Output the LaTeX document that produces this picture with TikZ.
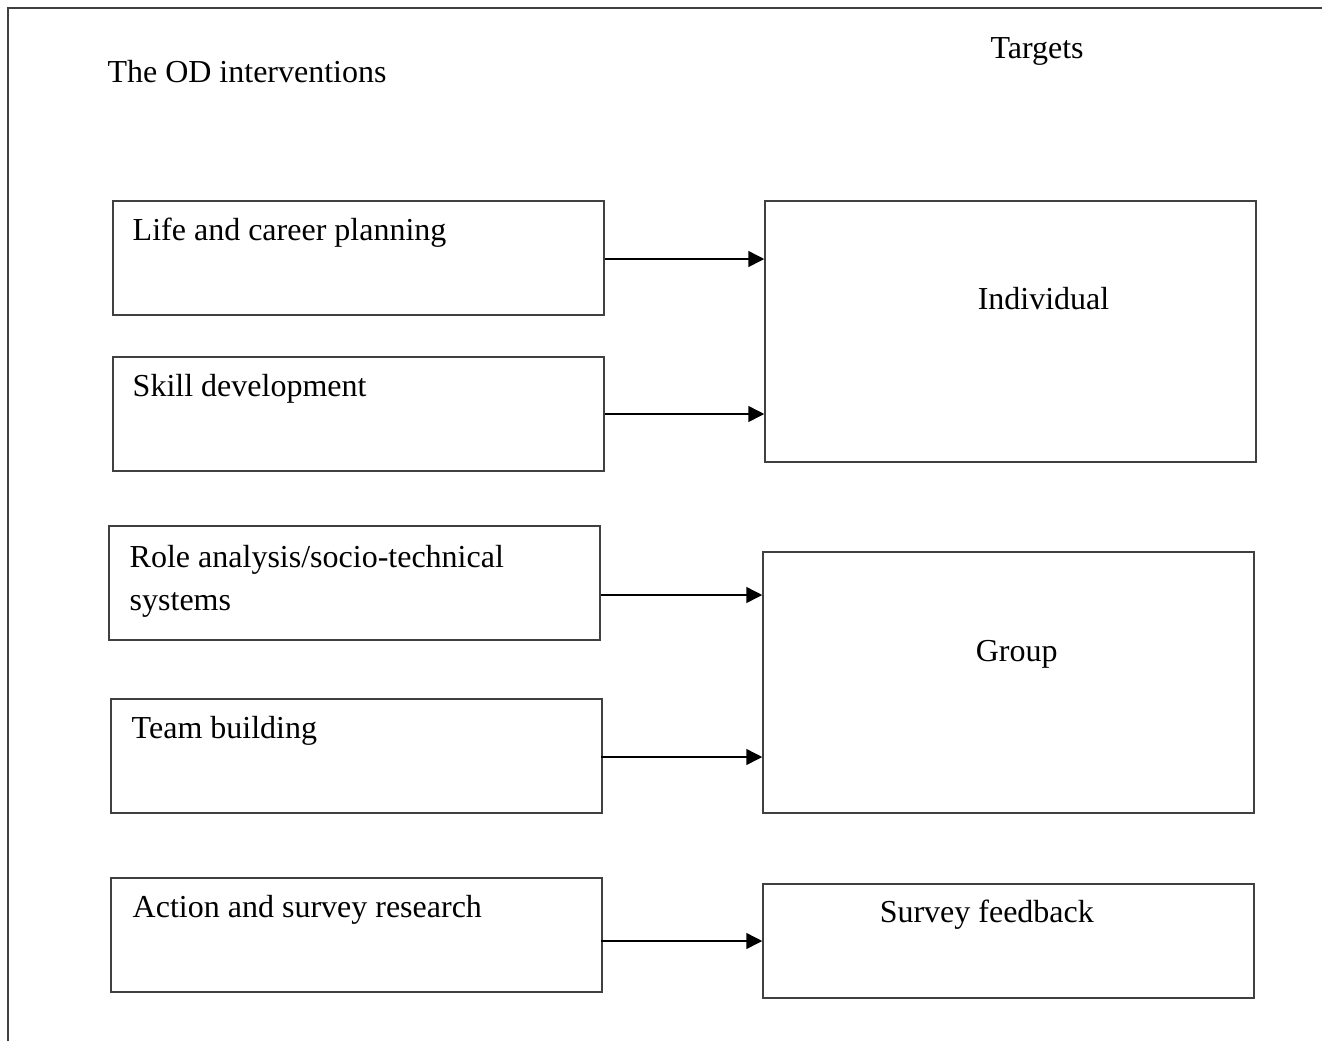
\documentclass[tikz,border=0pt]{standalone}
\usepackage{fontspec}
\setmainfont{Liberation Serif}
\usetikzlibrary{positioning, arrows.meta}

\tikzset{
    ibox/.style={draw=black!75, line width=0.6pt, inner sep=0pt,
        minimum width=196.4pt, minimum height=45.6pt},
    tbox/.style={ibox, minimum height=104.4pt},
    txt/.style={anchor=base west, inner sep=0pt, align=left,
        font=\fontsize{12.8}{17.2}\selectfont},
    arr/.style={-{Triangle[length=6.4pt, width=6.4pt]}, line width=0.6pt}
}

\begin{document}
\begin{tikzpicture}[x=0.4pt, y=-0.4pt]
    \useasboundingbox (0,0) rectangle (1322,1041);
    % page frame
    \draw[black!75, line width=0.6pt] (8,1041) -- (8,8) -- (1322,8);

    % headings
    \node[txt] (odtitle) at (107,82) {The OD interventions};
    \node[txt] (tgtitle) at (990,58) {Targets};

    % interventions
    \node[ibox, label={[txt, xshift=8pt, yshift=-16pt]north west:Life and career planning}] (life) at (358.5,258) {};
    \node[ibox, label={[txt, xshift=8pt, yshift=-16pt]north west:Skill development}] (skill) at (358.5,414) {};
    \node[ibox, label={[txt, xshift=8.4pt, yshift=-34pt]north west:Role analysis/socio-technical\\systems}] (role) at (354.5,583) {};
    \node[ibox, label={[txt, xshift=8.4pt, yshift=-16pt]north west:Team building}] (team) at (356.5,756) {};
    \node[ibox, label={[txt, xshift=8.8pt, yshift=-16pt]north west:Action and survey research}] (action) at (356.5,935) {};

    % targets
    \node[tbox, label={[txt, xshift=85.2pt, yshift=-43.6pt]north west:Individual}] (indiv) at (1010.5,331.5) {};
    \node[tbox, label={[txt, xshift=85.2pt, yshift=-44pt]north west:Group}] (group) at (1008.5,682.5) {};
    \node[ibox, label={[txt, xshift=46.8pt, yshift=-15.6pt]north west:Survey feedback}] (survey) at (1008.5,941) {};

    % connectors
    \draw[arr] ([yshift=-0.4pt]life.east) -- ([yshift=-0.4pt]life.east -| indiv.west);
    \draw[arr] (skill.east) -- (skill.east -| indiv.west);
    \draw[arr] ([yshift=-4.8pt]role.east) -- ([yshift=-4.8pt]role.east -| group.west);
    \draw[arr] ([xshift=-0.8pt, yshift=-0.4pt]team.east) -- ([yshift=-0.4pt]team.east -| group.west);
    \draw[arr] ([xshift=-0.8pt, yshift=-2.4pt]action.east) -- ([yshift=-2.4pt]action.east -| survey.west);
\end{tikzpicture}
\end{document}
